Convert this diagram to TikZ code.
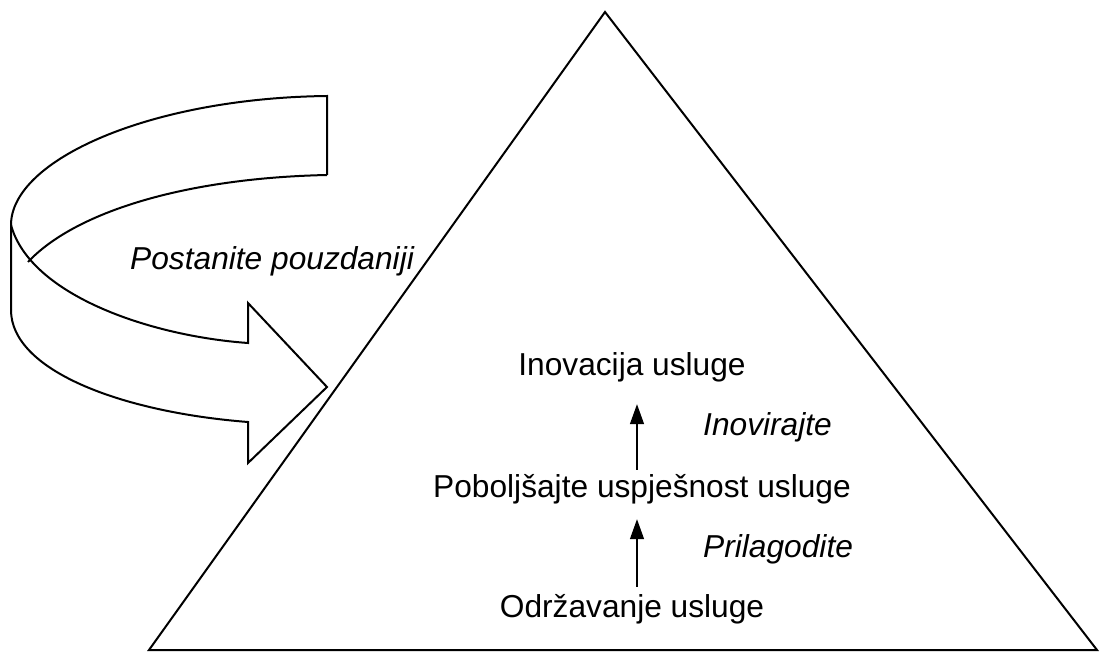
\documentclass[tikz,border=0pt]{standalone}
\usepackage{fontspec}
\setmainfont{Liberation Sans}
\usetikzlibrary{arrows.meta,positioning,calc}

\begin{document}
\begin{tikzpicture}[x=1pt,y=-1pt,
  lvl/.style={inner sep=0pt, text height=23pt, text depth=7pt, font=\fontsize{31.7}{38}\selectfont},
  verb/.style={inner sep=0pt, font=\fontsize{31.7}{38}\selectfont\itshape},
  up/.style={line width=1.4pt, -{Triangle[length=20pt,width=14pt]}}]
\useasboundingbox (0,0) rectangle (1108,652);
% pyramid
\draw[line width=2pt, line join=miter] (605,12) -- (1097,650) -- (149,650) -- cycle;
% curved ribbon arrow
\draw[line width=2pt, line join=miter] (327,175) -- (327,96) .. controls (150,98) and (11,160) .. (11,225) -- (11,310);
\draw[line width=2pt] (327,175) .. controls (185,178) and (75,212) .. (28,262);
\draw[line width=2pt, line join=miter] (11,225) .. controls (30,295) and (150,336) .. (248,343)
  -- (248,303) -- (327,387) -- (248,463) -- (248,422) .. controls (120,412) and (11,370) .. (11,310);
\node[verb, anchor=base west] (rel) at (130,270) {Postanite pouzdaniji};
% levels
\node[lvl, anchor=base] (ino) at (632,375) {Inovacija usluge};
\node[lvl, anchor=base] (pob) at (642,497) {Poboljšajte uspješnost usluge};
\node[lvl, anchor=base] (odr) at (632,617) {Održavanje usluge};
\node[verb, anchor=base west] (inv) at (703,435) {Inovirajte};
\node[verb, anchor=base west] (pri) at (703,557) {Prilagodite};
\coordinate (ax) at (637,0);
\draw[up, shorten <=7pt, shorten >=15pt] (odr.north -| ax) -- (pob.south -| ax);
\draw[up, shorten <=4pt, shorten >=22pt] (pob.north -| ax) -- (ino.south -| ax);
\end{tikzpicture}
\end{document}
